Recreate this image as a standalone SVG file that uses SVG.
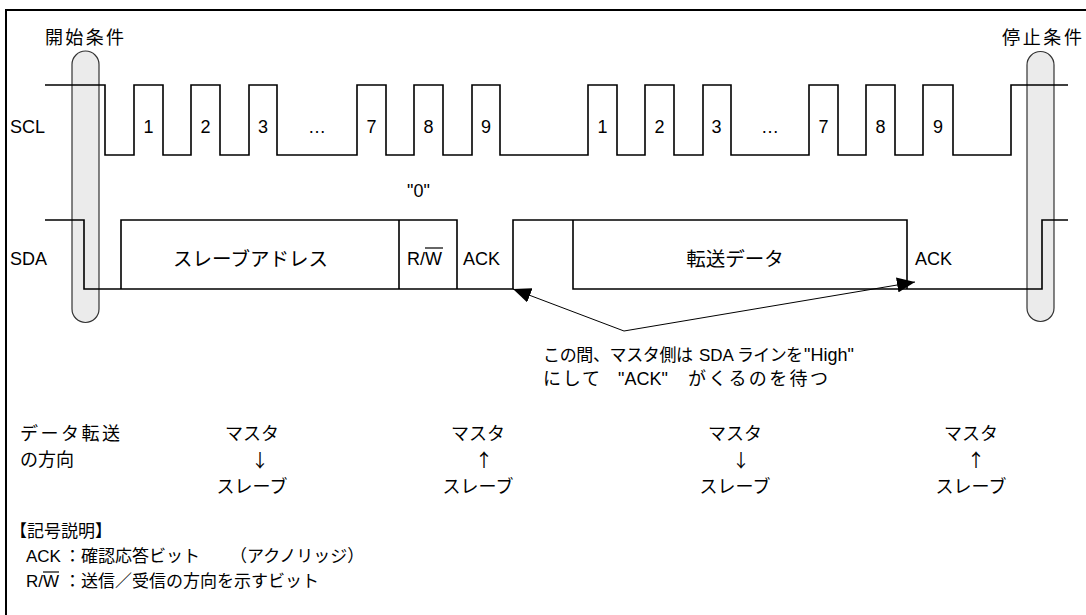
<svg xmlns="http://www.w3.org/2000/svg" width="1086" height="615" viewBox="0 0 1086 615">
<defs>
<style>
.t{font-family:"Liberation Sans","Noto Sans CJK JP",sans-serif;fill:#000}
.j{font-family:"Noto Sans CJK JP",sans-serif;fill:#000}
.s16{font-size:16px}
.s17{font-size:17px}
.s18{font-size:18px}
.s19{font-size:19.5px}
.w{fill:none;stroke:#000;stroke-width:1.6}
.cap{fill:#ebebeb;stroke:#333;stroke-width:1.2}
.c{text-anchor:middle}
.ob{stroke:#000;stroke-width:1.2}
</style>
<marker id="ah" markerUnits="userSpaceOnUse" markerWidth="18" markerHeight="15" refX="18" refY="7.5" orient="auto">
<path d="M0,0 L18,7.5 L0,15 z" fill="#000"/>
</marker>
</defs>
<rect x="0" y="0" width="1086" height="615" fill="#fff"/>
<path d="M6,615 V10 H1086" fill="none" stroke="#000" stroke-width="2"/>

<g id="start-cond">
<path class="cap" d="M72,64.5 A13.5,13.5 0 0 1 99,64.5 V309 A13.5,13.5 0 0 1 72,309 Z"/>
<text class="t s18" x="45" y="44" textLength="79">開始条件</text>
</g>
<g id="stop-cond">
<path class="cap" d="M1027,65 A13.5,13.5 0 0 1 1054,65 V308 A13.5,13.5 0 0 1 1027,308 Z"/>
<text class="t s18" x="1002" y="44" textLength="80">停止条件</text>
</g>

<g id="scl">
<text class="t s18" x="10" y="133">SCL</text>
<path class="w" d="M45,85 H105 V155 H134 V85 H163 V155 H191 V85 H220 V155 H249 V85 H277 V155 H357 V85 H386 V155 H414 V85 H443 V155 H472 V85 H500 V155 H588 V85 H617 V155 H645 V85 H674 V155 H703 V85 H731 V155 H809 V85 H838 V155 H866 V85 H895 V155 H923 V85 H953 V155 H1011 V85 H1068"/>
<g class="t s18 c">
<text x="148.5" y="133">1</text>
<text x="205.5" y="133">2</text>
<text x="263" y="133">3</text>
<text x="317" y="133">…</text>
<text x="371.5" y="133">7</text>
<text x="428.5" y="133">8</text>
<text x="486" y="133">9</text>
<text x="602.5" y="133">1</text>
<text x="659.5" y="133">2</text>
<text x="716.5" y="133">3</text>
<text x="770" y="133">…</text>
<text x="823.5" y="133">7</text>
<text x="880.5" y="133">8</text>
<text x="938" y="133">9</text>
</g>
</g>

<g id="sda">
<text class="t s18" x="10" y="265">SDA</text>
<path class="w" d="M45,220 H84 V289 H513 V220 H907 V289"/>
<path class="w" d="M573,220 V289 H1042 V220 H1068"/>
<path class="w" d="M121,289 V220 H457 V289 M399,220 V289"/>
</g>

<g id="addr">
<text class="t s19 c" x="250.5" y="266">スレーブアドレス</text>
</g>
<g id="rw">
<text class="t s18" x="407" y="197">"0"</text>
<text class="t s18" x="407" y="265">R/W</text>
<line class="ob" x1="425" y1="248" x2="443" y2="248"/>
</g>
<g id="ack1">
<text class="t s18" x="463" y="265">ACK</text>
</g>
<g id="data">
<text class="t s19 c" x="735" y="266">転送データ</text>
</g>
<g id="ack2">
<text class="t s18" x="915" y="265">ACK</text>
</g>

<g id="connectors">
<path d="M624,331 L513,289" fill="none" stroke="#000" stroke-width="1" marker-end="url(#ah)"/>
<path d="M624,331 L915,282" fill="none" stroke="#000" stroke-width="1" marker-end="url(#ah)"/>
</g>

<g id="note" class="t s17">
<text y="361"><tspan x="543" textLength="150">この間、マスタ側は</tspan><tspan x="699">SDA</tspan><tspan x="737" textLength="66">ラインを</tspan><tspan x="804" style="font-size:18px">"High"</tspan></text>
<text y="385" style="font-size:18px"><tspan x="543" textLength="57">にして</tspan><tspan x="618">"ACK"</tspan><tspan x="688" textLength="140">がくるのを待つ</tspan></text>
</g>

<g id="direction">
<text class="t s18" x="20" y="440" textLength="100">データ転送</text>
<text class="t s18" x="20" y="466">の方向</text>
<text class="t s18 c" x="252" y="440">マスタ</text>
<text class="j s18 c" x="260" y="467">↓</text>
<text class="t s18 c" x="252" y="493">スレーブ</text>
<text class="t s18 c" x="478" y="440">マスタ</text>
<text class="j s18 c" x="484" y="467">↑</text>
<text class="t s18 c" x="478" y="493">スレーブ</text>
<text class="t s18 c" x="735" y="440">マスタ</text>
<text class="j s18 c" x="741" y="467">↓</text>
<text class="t s18 c" x="735" y="493">スレーブ</text>
<text class="t s18 c" x="971" y="440">マスタ</text>
<text class="j s18 c" x="976" y="467">↑</text>
<text class="t s18 c" x="971" y="493">スレーブ</text>
</g>

<g id="legend" class="t s17">
<text x="10" y="537">【記号説明】</text>
<text y="562"><tspan x="26">ACK</tspan><tspan x="64">：確認応答ビット</tspan><tspan x="230">（アクノリッジ）</tspan></text>
<text y="587"><tspan x="26">R/W</tspan><tspan x="64">：送信／受信の方向を示すビット</tspan></text>
<line class="ob" x1="43" y1="572" x2="59" y2="572"/>
</g>
</svg>
